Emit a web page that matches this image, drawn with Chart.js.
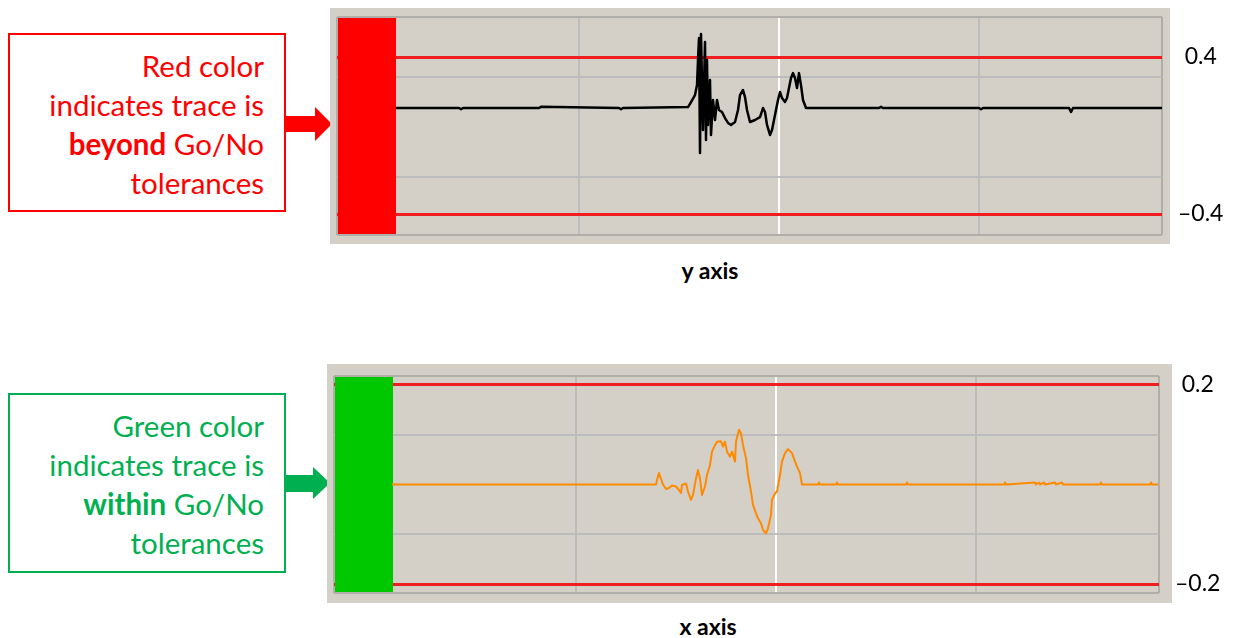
<!DOCTYPE html>
<html>
<head>
<meta charset="utf-8">
<script src="https://cdn.jsdelivr.net/npm/chart.js@4/dist/chart.umd.min.js"></script>
<style>
  body { margin: 0; width: 1234px; height: 638px; background: #fff; position: relative; overflow: hidden; font-family: Lato, "Open Sans", sans-serif; }
  .note { position: absolute; left: 8px; width: 278px; box-sizing: border-box; border: 2px solid; text-align: right;
          padding: 11px 20px 0 0; font-size: 29.5px; line-height: 39px; }
  .note b { font-weight: 700; }
  #noteRed { top: 33px; height: 179px; border-color: #ff0000; color: #ff0000; }
  #noteGreen { top: 393px; height: 180px; border-color: #00b050; color: #00b050; }
  .cap { position: absolute; width: 200px; text-align: center; font-weight: 700; font-size: 23px; color: #000; }
  canvas { position: absolute; }
  #arrows { position: absolute; left: 0; top: 0; }
</style>
</head>
<body>
<div class="note" id="noteRed">Red color<br>indicates trace is<br><b>beyond</b> Go/No<br>tolerances</div>
<div class="note" id="noteGreen">Green color<br>indicates trace is<br><b>within</b> Go/No<br>tolerances</div>
<svg id="arrows" width="340" height="638">
  <polygon points="286,116 315,116 315,107 332,124 315,141 315,132 286,132" fill="#ff0000"/>
  <polygon points="285,475 313,475 313,467 330,483 313,499 313,492 285,492" fill="#00b050"/>
</svg>
<canvas id="yChart" width="904" height="236" style="left:330px;top:8px"></canvas>
<div class="cap" style="left:610px;top:256px">y axis</div>
<canvas id="xChart" width="907" height="239" style="left:327px;top:364px"></canvas>
<div class="cap" style="left:608px;top:612px">x axis</div>

<script>
// x in samples (2 px each), grid every 100 samples, white cursor at 200
const xRange = [-21, 391.5];
const xGrid = [0, 100, 200, 300];
const cursorAt = 200;

// y axis trace (goes beyond the limits)
const yLimits = [-0.4, 0.4];
const yLimitLabels = ['\u20130.4', '0.4'];
const yGrid = [-0.21, 0.3];
const yRange = [-0.507, 0.604];
const yTraceX = [8.5, 40, 41, 42, 80, 81, 120, 121, 122, 154.5, 155.5, 158, 159, 159.5, 160, 160.5, 161, 162, 163, 163.5,
  164, 164.5, 165.5, 166, 167, 168, 169, 170, 171.5, 173, 174.5, 176, 178, 179.5, 180.5, 182, 183, 184, 185.5, 188,
  190.5, 192, 193, 194, 195.5, 196.5, 198, 199.5, 200.5, 201.5, 203, 204, 205, 206, 207, 208, 209, 210, 211, 212,
  213.5, 215.5, 250, 251, 252, 300, 301, 302, 345, 346, 347, 391.5];
const yTraceY = [0.14, 0.14, 0.134, 0.14, 0.14, 0.146, 0.14, 0.134, 0.14, 0.145, 0.161, 0.206, 0.257, 0.385, 0.497, -0.089, 0.517, 0.028, 0.476, -0.023,
  0.385, 0.054, 0.283, 0.003, 0.181, 0.079, 0.181, 0.13, 0.12, 0.089, 0.064, 0.054, 0.069, 0.13, 0.206, 0.232, 0.196, 0.13, 0.069, 0.079,
  0.094, 0.14, 0.12, 0.054, 0.003, 0.028, 0.104, 0.181, 0.222, 0.191, 0.171, 0.191, 0.242, 0.293, 0.318, 0.293, 0.242, 0.318, 0.257, 0.181,
  0.14, 0.14, 0.14, 0.146, 0.14, 0.14, 0.134, 0.14, 0.14, 0.12, 0.14, 0.14];

// x axis trace (stays within the limits)
const xLimits = [-0.2, 0.2];
const xLimitLabels = ['\u20130.2', '0.2'];
const xGridY = [-0.1, 0.1];
const xRangeY = [-0.218, 0.218];
const xTraceX = [8, 140, 140.5, 141.5, 143.5, 145, 146.5, 148, 150, 151.5, 152.5, 153, 155, 156, 157.5, 158.5, 160, 161, 162, 163,
  164.5, 165.5, 167, 168, 169.5, 170.5, 172.5, 173.5, 174.5, 175.5, 177, 178, 179.5, 180, 181.5, 182.5, 183.5, 185, 186, 187.5,
  188.5, 190, 191, 192.5, 193.5, 195, 196, 197.5, 198, 199.5, 200.5, 202, 203, 204.5, 206, 208, 209.5, 210.5, 212, 213,
  221, 221.5, 222, 230, 230.5, 231, 265, 265.5, 266, 314, 314.5, 315, 329.5, 330, 331.5, 332, 334, 334.5, 339.5, 340,
  343, 343.5, 362, 362.5, 363, 387, 387.5, 388, 391];
const xTraceY = [0, 0, 0.009, 0.023, 0, -0.009, -0.007, -0.002, -0.004, -0.011, -0.017, -0.001, 0.002, -0.014, -0.031, -0.021, 0.012, 0.029, 0.012, -0.021,
  -0.004, 0.019, 0.039, 0.066, 0.079, 0.086, 0.087, 0.076, 0.086, 0.066, 0.056, 0.066, 0.046, 0.086, 0.11, 0.103, 0.079, 0.053, 0.019, -0.014,
  -0.041, -0.058, -0.068, -0.078, -0.091, -0.098, -0.088, -0.061, -0.031, -0.018, -0.014, 0.019, 0.046, 0.063, 0.071, 0.063, 0.046, 0.036, 0.023, 0,
  0, 0.004, 0, 0, 0.004, 0, 0, 0.004, 0, 0, 0.004, 0, 0.004, 0, 0.004, 0, 0.004, 0, 0.004, 0,
  0.004, 0, 0, 0.004, 0, 0, 0.004, 0, 0];

const statusEnd = 8.5;

// gray window panel and status block
const panelPlugin = {
  id: 'panel',
  beforeDraw(chart, args, opts) {
    const { ctx, chartArea: a } = chart;
    const p = opts.pad;
    ctx.save();
    ctx.fillStyle = '#d4d0c8';
    ctx.fillRect(a.left - p[0], a.top - p[1], a.right - a.left + p[0] + p[2], a.bottom - a.top + p[1] + p[3]);
    ctx.restore();
  },
  beforeDatasetsDraw(chart, args, opts) {
    const { ctx, chartArea: a } = chart;
    const x = chart.scales.x;
    ctx.save();
    ctx.fillStyle = opts.status;
    const l = a.left + 1;
    ctx.fillRect(l, a.top + 1, x.getPixelForValue(statusEnd) - l, a.bottom - a.top - 2);
    ctx.restore();
  }
};

function makeChart(id, tx, ty, cfg) {
  const pts = tx.map((v, i) => ({ x: v, y: ty[i] }));
  return new Chart(document.getElementById(id), {
    type: 'line',
    data: { datasets: [{ data: pts, borderColor: cfg.color, borderWidth: cfg.lw, pointRadius: 0, tension: 0, borderJoinStyle: 'round' }] },
    options: {
      responsive: false,
      animation: false,
      layout: { padding: cfg.layout },
      plugins: {
        legend: { display: false },
        tooltip: { enabled: false },
        panel: { pad: cfg.pad, status: cfg.status }
      },
      scales: {
        x: {
          type: 'linear',
          min: xRange[0],
          max: xRange[1],
          afterBuildTicks: s => { s.ticks = [xRange[0]].concat(xGrid, [xRange[1]]).map(v => ({ value: v })); },
          afterFit: s => { s.height = 0; s.paddingLeft = 0; s.paddingRight = 0; },
          ticks: { display: false },
          border: { display: false },
          grid: {
            drawTicks: false,
            lineWidth: 2,
            color: c => c.tick.value === cursorAt ? '#ffffff' : (xRange.includes(c.tick.value) ? '#b0aea8' : '#bcbcbc')
          }
        },
        y: {
          position: 'right',
          min: cfg.range[0],
          max: cfg.range[1],
          afterBuildTicks: s => { s.ticks = [cfg.range[0], cfg.limits[0], cfg.grid[0], cfg.grid[1], cfg.limits[1], cfg.range[1]].map(v => ({ value: v })); },
          afterFit: s => { s.width = cfg.axisW; s.paddingTop = 0; s.paddingBottom = 0; },
          border: { display: false },
          grid: {
            drawTicks: false,
            lineWidth: c => cfg.limits.includes(c.tick.value) ? 3 : 2,
            color: c => cfg.limits.includes(c.tick.value) ? '#f01e1e' : (cfg.range.includes(c.tick.value) ? '#b0aea8' : '#bcbcbc')
          },
          ticks: {
            padding: 16,
            crossAlign: 'center',
            color: '#000',
            font: { family: 'Lato, "Open Sans", sans-serif', size: 23 },
            callback: v => {
              const i = cfg.limits.indexOf(v);
              return i >= 0 ? cfg.labels[i] : '';
            }
          }
        }
      }
    },
    plugins: [panelPlugin]
  });
}

makeChart('yChart', yTraceX, yTraceY, {
  color: '#000000', lw: 2.5, status: '#ff0000', range: yRange, limits: yLimits, labels: yLimitLabels, grid: yGrid,
  layout: { left: 7, top: 9, right: 0, bottom: 9 }, pad: [7, 9, 8, 9], axisW: 72
});
makeChart('xChart', xTraceX, xTraceY, {
  color: '#ff8a00', lw: 2, status: '#00c800', range: xRangeY, limits: xLimits, labels: xLimitLabels, grid: xGridY,
  layout: { left: 7, top: 12, right: 0, bottom: 10 }, pad: [7, 12, 13, 10], axisW: 75
});
</script>
</body>
</html>
